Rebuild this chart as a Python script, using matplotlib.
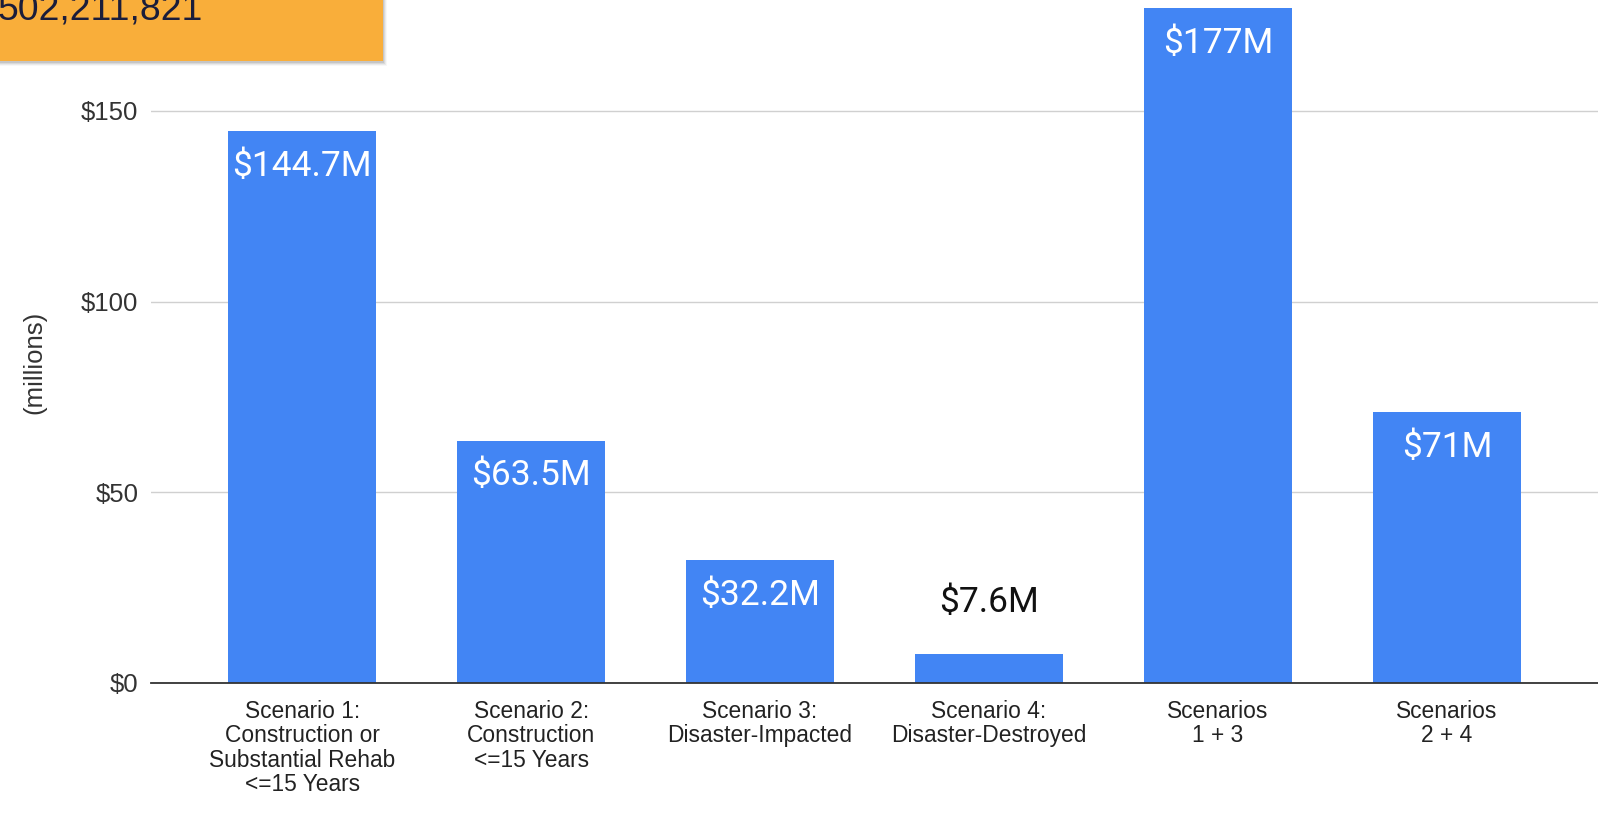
"""
Funding by scenario - bar chart
"""

import matplotlib.pyplot as plt
from matplotlib.patches import Rectangle

# Data
categories = [
    "Scenario 1:\nConstruction or\nSubstantial Rehab\n<=15 Years",
    "Scenario 2:\nConstruction\n<=15 Years",
    "Scenario 3:\nDisaster-Impacted",
    "Scenario 4:\nDisaster-Destroyed",
    "Scenarios\n1 + 3",
    "Scenarios\n2 + 4",
]
values = [144.7, 63.5, 32.2, 7.6, 177, 71]
value_labels = ["$144.7M", "$63.5M", "$32.2M", "$7.6M", "$177M", "$71M"]
yticks = [0, 50, 100, 150]
ytick_labels = ["$0", "$50", "$100", "$150"]
total_text = "502,211,821"

BLUE = "#4285F4"
ORANGE = "#F9AE3A"

fig = plt.figure(figsize=(15.98, 8.17), dpi=100)
W, H = 1598, 817
ax = fig.add_axes([151 / W, 134 / H, 1 - 151 / W, 1 - 134 / H])

x = list(range(len(values)))
ax.bar(x, values, width=0.645, color=BLUE, zorder=2)

ax.set_xlim(-0.66, len(values) - 1 + 0.66)
ax.set_ylim(0, 179.1)

ax.set_yticks(yticks)
ax.set_yticklabels(ytick_labels, fontsize=18.5, color="#333333", family="Liberation Sans")
ax.set_xticks(x)
ax.set_xticklabels(categories, fontsize=16.4, color="#222222", family="Liberation Sans",
                   linespacing=1.08, va="top")
ax.tick_params(axis="y", length=0, pad=9)
ax.tick_params(axis="x", length=0, pad=12)

ax.grid(axis="y", color="#d0d0d0", linewidth=1, zorder=0)
for s in ["top", "right", "left"]:
    ax.spines[s].set_visible(False)
ax.spines["bottom"].set_color("#333333")
ax.spines["bottom"].set_linewidth(1.3)
ax.spines["bottom"].set_zorder(3)

ax.set_ylabel("(millions)", fontsize=18.5, color="#333333", family="Liberation Sans")
ax.yaxis.set_label_coords(-0.072, 0.47)

# value labels
for xi, v, lab in zip(x, values, value_labels):
    if v > 20:
        ax.annotate(lab, (xi, v), xytext=(0, -35), textcoords="offset pixels",
                    ha="center", va="center", fontsize=25.5, color="white",
                    family="Roboto", zorder=4)
    else:
        ax.annotate(lab, (xi, v), xytext=(0, 52), textcoords="offset pixels",
                    ha="center", va="center", fontsize=25.5, color="#111111",
                    family="Roboto", zorder=4)

# orange total box in the corner, with a soft shadow
for i, a in enumerate([0.03, 0.05, 0.07, 0.09]):
    off = 5 - i
    fig.patches.append(Rectangle((0, 1 - (61 + off) / H), (383 + off - 1) / W, (61 + off) / H,
                                 transform=fig.transFigure, color="black", alpha=a,
                                 lw=0, zorder=5))
fig.patches.append(Rectangle((0, 1 - 61 / H), 383 / W, 61 / H, transform=fig.transFigure,
                             color=ORANGE, lw=0, zorder=6))
fig.text(-2 / W, 1 - 19 / H, total_text, fontsize=26.9, color="#1b1d3a",
         family="Liberation Sans", ha="left", va="baseline", zorder=7)

fig.savefig("out.png", dpi=100)
